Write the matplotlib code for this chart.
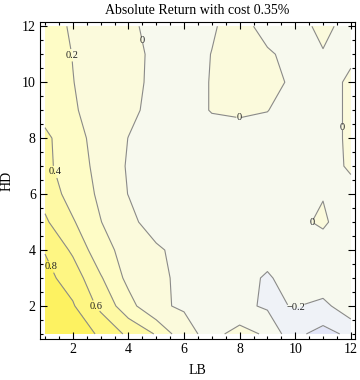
import numpy as np
import matplotlib
matplotlib.use('Agg')
import matplotlib.pyplot as plt
from matplotlib.ticker import MultipleLocator

# grid: LB along x, HD along y
LB = [1, 2, 3, 4, 5, 6, 7, 8, 9, 10, 11, 12]
HD = [1, 2, 3, 4, 5, 6, 7, 8, 9, 10, 11, 12]

# absolute return, one row per HD value (HD = 1 first)
ret_hd1 = [0.97, 0.90, 0.775, 0.556, 0.385, 0.06, -0.06, 0.07, -0.03, -0.36, -0.46, -0.36]
ret_hd2 = [0.93, 0.82, 0.55, 0.277, 0.02, -0.016, -0.08, -0.15, -0.23, -0.19, -0.26, -0.06]
ret_hd3 = [0.86, 0.71, 0.42, 0.145, 0.05, -0.05, -0.08, -0.11, -0.23, -0.08, -0.04, -0.10]
ret_hd4 = [0.79, 0.566, 0.27, 0.13, 0.04, -0.09, -0.10, -0.10, -0.10, -0.08, -0.09, -0.10]
ret_hd5 = [0.63, 0.42, 0.205, 0.07, -0.12, -0.10, -0.10, -0.10, -0.10, -0.045, 0.03, -0.12]
ret_hd6 = [0.53, 0.313, 0.168, -0.005, -0.10, -0.08, -0.08, -0.08, -0.08, -0.08, -0.01, -0.07]
ret_hd7 = [0.47, 0.237, 0.177, -0.024, -0.10, -0.10, -0.08, -0.08, -0.08, -0.08, -0.09, 0.03]
ret_hd8 = [0.43, 0.31, 0.0855, -0.002, -0.10, -0.10, -0.08, -0.08, -0.08, -0.08, -0.07, 0.03]
ret_hd9 = [0.35, 0.23, 0.08, 0.03, -0.041, -0.08, 0.01, 0.03, 0.005, -0.09, -0.07, 0.03]
ret_hd10 = [0.33, 0.205, 0.10, 0.05, -0.039, -0.08, 0.01, 0.04, 0.05, -0.03, -0.07, 0.03]
ret_hd11 = [0.32, 0.195, 0.11, 0.06, -0.04, -0.06, 0.003, 0.04, 0.02, -0.05, -0.01, -0.03]
ret_hd12 = [0.31, 0.17, 0.11, 0.05, -0.08, -0.06, -0.015, 0.06, -0.06, -0.06, 0.04, -0.06]

fill_levels = [-0.6, -0.4, -0.2, 0.0, 0.2, 0.4, 0.6, 0.8, 1.0]
line_levels = [-0.4, -0.2, 0.0, 0.2, 0.4, 0.6, 0.8]
fill_colors = ['#e3e6f8', '#eff2f7', '#f7f9ee', '#fbfadc', '#fefcc6',
               '#fef9a4', '#fef683', '#fdf261']

# where the contour labels sit
label_pos = [(1.9, 10.96), (4.45, 11.5), (7.98, 8.79), (11.54, 8.39),
             (1.22, 6.75), (10.6, 5.0), (1.29, 3.43), (2.83, 2.0), (10.03, 1.93)]


def fmt_level(v):
    s = '{:g}'.format(round(v, 2))
    if s == '-0':
        s = '0'
    return s.replace('-', '\u2212')


def main():
    plt.rcParams['font.family'] = ['Liberation Serif', 'DejaVu Serif']

    Z = np.array([ret_hd1, ret_hd2, ret_hd3, ret_hd4, ret_hd5, ret_hd6,
                  ret_hd7, ret_hd8, ret_hd9, ret_hd10, ret_hd11, ret_hd12])
    X, Y = np.meshgrid(LB, HD)

    fig = plt.figure(figsize=(3.6, 3.8), dpi=100)
    ax = fig.add_axes([0.1111, 0.1079, 0.875, 0.834])

    ax.contourf(X, Y, Z, levels=fill_levels, colors=fill_colors)
    cs = ax.contour(X, Y, Z, levels=line_levels, colors='#8a8a8a',
                    linewidths=0.8, linestyles='solid')
    labels = ax.clabel(cs, manual=label_pos, inline=True, fmt=fmt_level,
                       fontsize=7.5, colors='#222222', inline_spacing=0)
    for t in labels:
        t.set_rotation(0)

    ax.set_xlim(0.82, 12.15)
    ax.set_ylim(0.82, 12.15)
    ax.xaxis.set_major_locator(MultipleLocator(2))
    ax.yaxis.set_major_locator(MultipleLocator(2))
    ax.xaxis.set_minor_locator(MultipleLocator(0.5))
    ax.yaxis.set_minor_locator(MultipleLocator(0.5))
    ax.tick_params(which='both', direction='in', top=True, right=True,
                   labelsize=10, width=0.8, pad=3)
    ax.tick_params(which='major', length=5)
    ax.tick_params(which='minor', length=2.5)
    for sp in ax.spines.values():
        sp.set_linewidth(0.8)

    ax.set_title('Absolute Return with cost 0.35%', fontsize=10, pad=6)
    ax.set_xlabel('LB', fontsize=10, labelpad=6)
    ax.set_ylabel('HD', fontsize=10, labelpad=6)

    fig.savefig('out.png', dpi=100)


if __name__ == "__main__":
    main()
